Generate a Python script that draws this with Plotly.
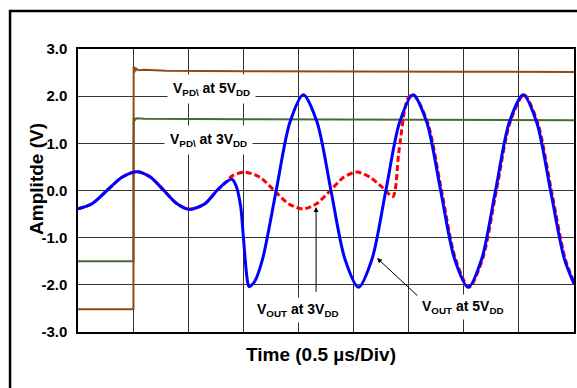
import plotly.graph_objects as go

# ---- data (time in microseconds, amplitude in volts) ----
t_pd5 = [0.0, 0.503, 0.505, 0.510, 0.515, 0.520, 0.530, 0.550, 0.600, 0.800, 1.5, 2.5, 3.5, 4.5]
v_pd5 = [-2.52, -2.52, 2.64, 2.50, 2.61, 2.53, 2.58, 2.55, 2.56, 2.54, 2.53, 2.53, 2.52, 2.51]

t_pd3 = [0.0, 0.503, 0.505, 0.515, 0.530, 0.600, 1.5, 3.0, 4.5]
v_pd3 = [-1.50, -1.50, 1.55, 1.49, 1.53, 1.52, 1.51, 1.50, 1.49]

t_out5 = [0.000, 0.127, 0.263, 0.399, 0.535, 0.653, 0.780, 0.898, 1.016, 1.152, 1.261, 1.334,
          1.397, 1.434, 1.476, 1.500, 1.524, 1.540, 1.552, 1.600,
          1.674, 1.798, 1.922, 2.045, 2.170, 2.295, 2.420, 2.545, 2.669, 2.793, 2.917,
          3.040, 3.165, 3.290, 3.415, 3.540, 3.664, 3.788, 3.912, 4.038, 4.162, 4.287,
          4.411, 4.500]
v_out5 = [-0.39, -0.28, 0.00, 0.28, 0.40, 0.29, 0.00, -0.28, -0.40, -0.28, 0.00, 0.16,
          0.24, 0.10, -0.34, -0.98, -1.65, -1.96, -2.04, -1.94,
          -1.46, 0.00, 1.44, 2.03, 1.44, 0.00, -1.44, -2.05, -1.44, 0.00, 1.44,
          2.03, 1.44, 0.00, -1.44, -2.05, -1.44, 0.00, 1.44, 2.03, 1.44, 0.00,
          -1.44, -1.98]

t_out3 = [0.000, 0.127, 0.263, 0.399, 0.535, 0.653, 0.780, 0.898, 1.016, 1.152, 1.261, 1.334,
          1.400, 1.515, 1.650, 1.780, 1.910, 2.042, 2.165, 2.290, 2.410, 2.532, 2.650,
          2.770, 2.856, 2.910, 2.967, 3.000, 3.045, 3.172, 3.298, 3.423, 3.548, 3.672,
          3.796, 3.920, 4.046, 4.170, 4.295, 4.419, 4.500]
v_out3 = [-0.39, -0.28, 0.00, 0.28, 0.40, 0.29, 0.00, -0.28, -0.40, -0.28, 0.00, 0.16,
          0.31, 0.39, 0.28, 0.00, -0.28, -0.39, -0.28, 0.00, 0.28, 0.39, 0.28,
          0.05, -0.13, 0.80, 1.75, 1.98, 2.03, 1.44, 0.00, -1.44, -2.05, -1.44,
          0.00, 1.44, 2.03, 1.44, 0.00, -1.44, -1.94]

y_tickvals = [-3, -2, -1, 0, 1, 2, 3]
y_ticktext = ["-3.0", "-2.0", "-1.0", "0.0", "1.0", "2.0", "3.0"]

FONT = "Arial, Liberation Sans, sans-serif"

fig = go.Figure()
fig.add_trace(go.Scatter(x=t_pd3, y=v_pd3, mode="lines",
                         line=dict(color="#4A6A35", width=2), showlegend=False))
fig.add_trace(go.Scatter(x=t_pd5, y=v_pd5, mode="lines",
                         line=dict(color="#8E4B17", width=2), showlegend=False))
fig.add_trace(go.Scatter(x=t_out3, y=v_out3, mode="lines",
                         line=dict(color="#FF0000", width=3, dash="6px,3px", shape="spline", smoothing=0.8),
                         showlegend=False))
fig.add_trace(go.Scatter(x=t_out5, y=v_out5, mode="lines",
                         line=dict(color="#0000FF", width=3, shape="spline", smoothing=0.8),
                         showlegend=False))

lab_font = dict(family=FONT, size=14, color="black")
annos = [
    dict(x=1.207, y=2.15, text="<b>V<sub>PD\\</sub> at 5V<sub>DD</sub></b>", borderpad=5),
    dict(x=1.18, y=1.08, text="<b>V<sub>PD\\</sub> at 3V<sub>DD</sub></b>", borderpad=5),
    dict(x=1.996, y=-2.54, text="<b>V<sub>OUT</sub> at 3V<sub>DD</sub></b>", borderpad=3),
    dict(x=3.494, y=-2.48, text="<b>V<sub>OUT</sub> at 5V<sub>DD</sub></b>", borderpad=3),
]
for a in annos:
    fig.add_annotation(x=a["x"], y=a["y"], xref="x", yref="y", text=a["text"],
                       xanchor="center", yanchor="middle",
                       showarrow=False, bgcolor="white", borderpad=a["borderpad"],
                       font=lab_font)

for tip, tail in [((2.16, -0.35), (2.16, -2.18)), ((2.713, -1.433), (3.094, -2.26))]:
    fig.add_annotation(x=tip[0], y=tip[1], ax=tail[0], ay=tail[1], xref="x", yref="y",
                       axref="x", ayref="y", text="", showarrow=True, arrowhead=2,
                       arrowsize=1, arrowwidth=1, arrowcolor="black")

fig.add_annotation(x=-0.0827, y=0.541, xref="paper", yref="paper", text="<b>Amplitde (V)</b>",
                   xanchor="center", yanchor="middle",
                   textangle=-90, showarrow=False, font=dict(family=FONT, size=19, color="black"))
fig.add_annotation(x=0.49, y=-0.081, xref="paper", yref="paper", text="<b>Time (0.5 µs/Div)</b>",
                   xanchor="center", yanchor="middle",
                   showarrow=False, font=dict(family=FONT, size=19, color="black"))

fig.add_shape(type="rect", xref="paper", yref="paper", x0=-0.137, y0=-0.3, x1=1.05, y1=1.134,
              line=dict(color="black", width=2.5), layer="above")

fig.update_layout(
    width=577, height=388,
    margin=dict(l=78, r=3, t=49, b=56, autoexpand=False),
    paper_bgcolor="white", plot_bgcolor="white",
    font=dict(family=FONT, color="black"),
    xaxis=dict(range=[0, 4.5], dtick=0.5, tick0=0, showticklabels=False, showgrid=True,
               gridcolor="#333333", gridwidth=1, zeroline=False, showline=True,
               linecolor="black", linewidth=1.5, mirror=True, ticks="", automargin=False),
    yaxis=dict(range=[-3, 3], tickvals=y_tickvals, ticktext=y_ticktext, showgrid=True,
               gridcolor="#333333", gridwidth=1, zeroline=False, showline=True,
               linecolor="black", linewidth=1.5, mirror=True, ticks="", automargin=False,
               ticklabelstandoff=6,
               tickfont=dict(family=FONT, size=15, color="black", weight="bold")),
)

fig.write_html("out.html", config={"displayModeBar": False},
               post_script="document.body.style.margin='0';")
